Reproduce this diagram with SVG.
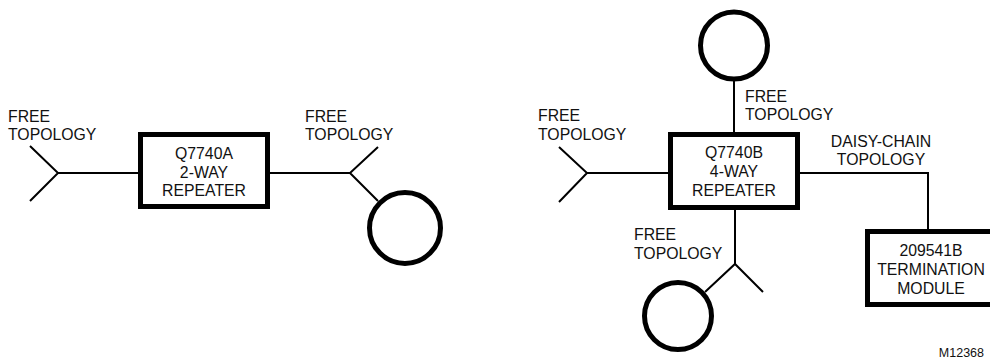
<svg xmlns="http://www.w3.org/2000/svg" width="990" height="360" viewBox="0 0 990 360">
<style>
  .ln { stroke: #000; stroke-width: 2; fill: none; }
  .box { stroke: #000; stroke-width: 5; fill: #fff; }
  .dev { stroke: #000; stroke-width: 5; fill: none; }
  text { font-family: "Liberation Sans", Arial, sans-serif; font-size: 15.8px; fill: #111; }
  .c { text-anchor: middle; }
  .tag { font-size: 12.5px; text-anchor: end; }
</style>
<rect width="990" height="360" fill="#fff"/>
<g id="connectors">
  <polyline class="ln" points="30,146 58,173 30,201"/>
  <line class="ln" x1="58" y1="173" x2="140" y2="173"/>
  <line class="ln" x1="268" y1="173" x2="350" y2="173"/>
  <polyline class="ln" points="378,147 350,173 378,201"/>
  <polyline class="ln" points="559,147 587,173 559,202"/>
  <line class="ln" x1="587" y1="173" x2="670" y2="173"/>
  <line class="ln" x1="734" y1="80" x2="734" y2="134"/>
  <polyline class="ln" points="798,173 928,173 928,231"/>
  <line class="ln" x1="735" y1="208" x2="735" y2="264"/>
  <polyline class="ln" points="763,292 735,264 705,292"/>
</g>
<g id="repeaterA">
  <rect class="box" x="140.5" y="134.5" width="127" height="72"/>
  <text class="c" x="204" y="159">Q7740A</text>
  <text class="c" x="204" y="177.5">2-WAY</text>
  <text class="c" x="204" y="196">REPEATER</text>
</g>
<g id="repeaterB">
  <rect class="box" x="670.5" y="134.5" width="127" height="73"/>
  <text class="c" x="734" y="158">Q7740B</text>
  <text class="c" x="734" y="177">4-WAY</text>
  <text class="c" x="734" y="196">REPEATER</text>
</g>
<g id="termination">
  <rect class="box" x="867.5" y="231.5" width="127" height="73"/>
  <text class="c" x="931" y="256">209541B</text>
  <text class="c" x="931" y="275">TERMINATION</text>
  <text class="c" x="931" y="294">MODULE</text>
</g>
<g id="deviceA">
  <circle class="dev" cx="405" cy="228" r="35.5"/>
</g>
<g id="deviceTop">
  <circle class="dev" cx="734" cy="45.5" r="33.5"/>
</g>
<g id="deviceBottom">
  <circle class="dev" cx="678" cy="316" r="33.5"/>
</g>
<g id="labels">
  <text x="8" y="122">FREE</text>
  <text x="8" y="140">TOPOLOGY</text>
  <text x="305" y="122">FREE</text>
  <text x="305" y="140">TOPOLOGY</text>
  <text x="538" y="121">FREE</text>
  <text x="538" y="139.5">TOPOLOGY</text>
  <text x="745" y="102">FREE</text>
  <text x="745" y="120">TOPOLOGY</text>
  <text class="c" x="881" y="147">DAISY-CHAIN</text>
  <text class="c" x="881" y="165">TOPOLOGY</text>
  <text x="634" y="240">FREE</text>
  <text x="634" y="259">TOPOLOGY</text>
  <text class="tag" x="984" y="357">M12368</text>
</g>
</svg>
